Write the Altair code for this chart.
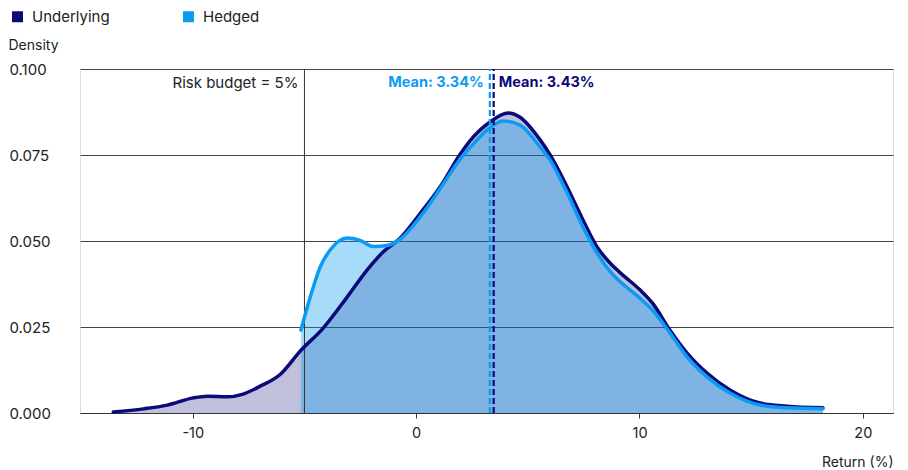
import altair as alt
import pandas as pd

# ---- data ----
und_x = [-13.56, -12.21, -11.14, -9.98, -9.35, -8.46, -7.74, -6.98, -6.09, -5.19, -4.16, -3.09,
         -2.19, -1.48, -0.72, 0.18, 1.07, 1.97, 2.42, 3.31, 4.12, 4.65, 5.55, 6.0, 6.76, 7.47, 8.1,
         8.68, 9.13, 10.02, 10.6, 11.36, 12.13, 13.02, 14.05, 15.39, 16.6, 18.21]
und_y = [0.0003, 0.0012, 0.0023, 0.0044, 0.0049, 0.0047, 0.0055, 0.0078, 0.0112, 0.0180, 0.0247, 0.0337,
         0.0416, 0.0468, 0.0508, 0.0580, 0.0657, 0.0752, 0.0792, 0.0846, 0.0872, 0.0860, 0.0794, 0.0750, 0.0657,
         0.0561, 0.0483, 0.0436, 0.0408, 0.0358, 0.0318, 0.0241, 0.0174, 0.0116, 0.0067, 0.0029, 0.0020, 0.0015]

hed_x = [-5.16, -4.74, -4.30, -3.85, -3.09, -2.51, -1.92, -1.30, -0.72, 0.18, 1.07, 1.97, 2.42,
         3.31, 3.89, 4.65, 5.55, 6.0, 6.76, 7.47, 8.1, 8.68, 9.13, 10.02, 10.6, 11.36, 12.13,
         13.02, 14.05, 15.39, 16.6, 18.21]
hed_y = [0.0241, 0.0337, 0.0424, 0.0474, 0.0509, 0.0502, 0.0484, 0.0487, 0.0505, 0.0570, 0.0652, 0.0738, 0.0772,
         0.0830, 0.0849, 0.0837, 0.0773, 0.0735, 0.0640, 0.0541, 0.0465, 0.0412, 0.0382, 0.0334, 0.0298, 0.0233, 0.0163,
         0.0105, 0.0058, 0.0023, 0.0015, 0.0012]

series = ["Underlying", "Hedged"]
colors = ["#0a0a78", "#0b9bf2"]
means = [3.43, 3.34]
mean_labels = ["Mean: 3.43%", "Mean: 3.34%"]
risk_budget = -5.0
risk_label = "Risk budget = 5%"
x_ticks = [-10, 0, 10, 20]
y_ticks = [0.0, 0.025, 0.05, 0.075, 0.1]

FONT = "Inter"
TXT = "#222222"

df = pd.concat([
    pd.DataFrame({"x": und_x, "y": und_y, "series": series[0]}),
    pd.DataFrame({"x": hed_x, "y": hed_y, "series": series[1]}),
])
und_df = df[df.series == series[0]]
hed_df = df[df.series == series[1]]

xscale = alt.Scale(domain=[-15.05, 21.35], nice=False, zero=False)
yscale = alt.Scale(domain=[0, 0.1], nice=False)

x_enc = alt.X("x:Q", scale=xscale, axis=alt.Axis(
    values=x_ticks, labelExpr="'' + datum.value", grid=False, tickSize=5, tickColor="#333333",
    domainColor="#333333", labelFontSize=14.5, labelFont=FONT, labelColor=TXT,
    labelPadding=8, title="Return (%)", titleFont=FONT, titleFontSize=14,
    titleFontWeight="normal", titleColor=TXT, titleAnchor="end",
    titleAlign="right", titleX=813, titleY=53, titleBaseline="alphabetic"))
y_enc = alt.Y("y:Q", scale=yscale, axis=alt.Axis(
    values=y_ticks, format=".3f", grid=True, gridColor="#444444", gridWidth=1,
    domain=False, ticks=False, labelAlign="left", labelPadding=71,
    labelFontSize=15, labelFont=FONT, labelColor=TXT,
    title="Density", titleAngle=0, titleAlign="left", titleX=-72, titleY=-20,
    titleBaseline="alphabetic", titleFont=FONT, titleFontSize=14,
    titleFontWeight="normal", titleColor=TXT))

color_scale = alt.Scale(domain=series, range=colors)

# legend-only layer (invisible squares drive the legend)
legend_layer = alt.Chart(df).mark_square(opacity=0).encode(
    x=x_enc, y=y_enc,
    fill=alt.Fill("series:N", scale=color_scale, sort=series, legend=alt.Legend(
        title=None, orient="none", legendX=-70, legendY=-60, direction="horizontal",
        symbolType="square", symbolSize=121, symbolOpacity=1, symbolStrokeWidth=0,
        labelFontSize=15, labelFont=FONT, labelColor=TXT, columnPadding=71,
        labelOffset=7)),
)

und_area = alt.Chart(und_df).mark_area(interpolate="monotone", color=colors[0], fillOpacity=0.26).encode(
    x=alt.X("x:Q", scale=xscale), y=alt.Y("y:Q", scale=yscale))
hed_area = alt.Chart(hed_df).mark_area(interpolate="monotone", color=colors[1], fillOpacity=0.36).encode(
    x=alt.X("x:Q", scale=xscale), y=alt.Y("y:Q", scale=yscale))

risk_rule = alt.Chart().mark_rule(color="#333333", strokeWidth=1).encode(
    x=alt.datum(risk_budget, type="quantitative", scale=xscale),
    y=alt.datum(0.0), y2=alt.datum(0.1))

und_line = alt.Chart(und_df).mark_line(interpolate="monotone", color=colors[0], strokeWidth=3.5,
                                       strokeCap="round").encode(
    x=alt.X("x:Q", scale=xscale), y=alt.Y("y:Q", scale=yscale))
hed_line = alt.Chart(hed_df).mark_line(interpolate="monotone", color=colors[1], strokeWidth=3.5,
                                       strokeCap="round").encode(
    x=alt.X("x:Q", scale=xscale), y=alt.Y("y:Q", scale=yscale))

mean_h = alt.Chart().mark_rule(color=colors[1], strokeWidth=2.2, strokeDash=[6, 3]).encode(
    x=alt.datum(means[1] - 0.04), y=alt.datum(0.0), y2=alt.datum(0.1))
mean_u = alt.Chart().mark_rule(color=colors[0], strokeWidth=2.2, strokeDash=[6, 3]).encode(
    x=alt.datum(means[0] + 0.04), y=alt.datum(0.0), y2=alt.datum(0.1))

txt_risk = alt.Chart().mark_text(align="right", baseline="middle", dx=-6, dy=14,
                                 fontSize=15, font=FONT, color=TXT).encode(
    x=alt.datum(risk_budget), y=alt.datum(0.1), text=alt.value(risk_label))
txt_mh = alt.Chart().mark_text(align="right", baseline="middle", dx=-7, dy=14,
                               fontSize=14.5, font=FONT, fontWeight="bold", color=colors[1]).encode(
    x=alt.datum(means[1]), y=alt.datum(0.1), text=alt.value(mean_labels[1]))
txt_mu = alt.Chart().mark_text(align="left", baseline="middle", dx=6, dy=14,
                               fontSize=14.5, font=FONT, fontWeight="bold", color=colors[0]).encode(
    x=alt.datum(means[0]), y=alt.datum(0.1), text=alt.value(mean_labels[0]))

chart = alt.layer(
    legend_layer, und_area, hed_area, risk_rule, und_line, hed_line,
    mean_h, mean_u, txt_risk, txt_mh, txt_mu
).properties(
    width=813, height=344,
    autosize=alt.AutoSizeParams(type="none"),
    padding={"left": 72, "top": 61, "right": 7, "bottom": 56},
).configure_view(stroke=None).configure(background="white")

chart.save("out.html", embed_options={"renderer": "svg", "actions": False})
